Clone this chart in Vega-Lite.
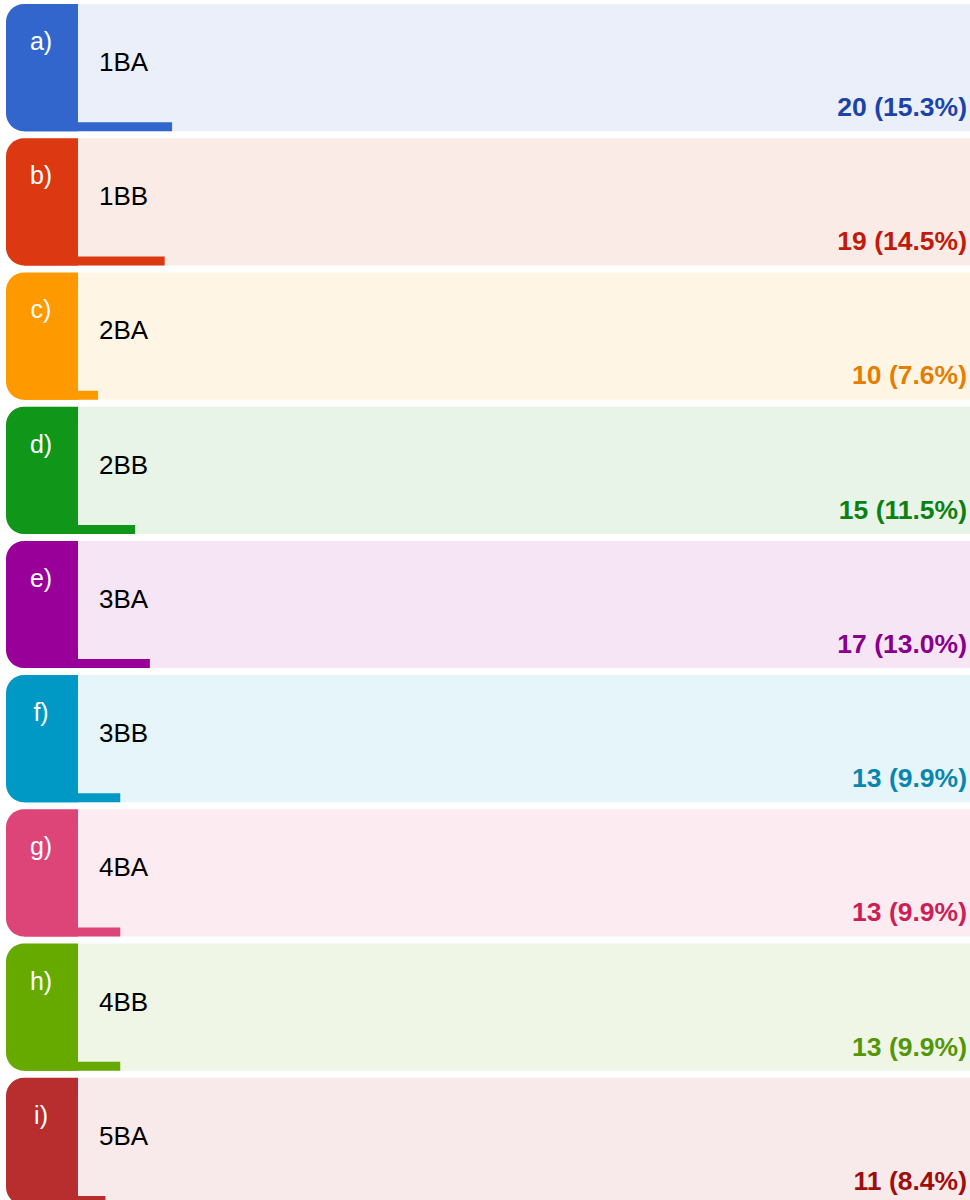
{
  "$schema": "https://vega.github.io/schema/vega-lite/v6.json",
  "width": 970,
  "height": 1200,
  "padding": 0,
  "autosize": {"type": "none"},
  "background": "#ffffff",
  "config": {"view": {"stroke": null}, "font": "Liberation Sans"},
  "data": {
    "values": [
      {"letter": "a)", "label": "1BA", "count": 20, "text": "20 (15.3%)"},
      {"letter": "b)", "label": "1BB", "count": 19, "text": "19 (14.5%)"},
      {"letter": "c)", "label": "2BA", "count": 10, "text": "10 (7.6%)"},
      {"letter": "d)", "label": "2BB", "count": 15, "text": "15 (11.5%)"},
      {"letter": "e)", "label": "3BA", "count": 17, "text": "17 (13.0%)"},
      {"letter": "f)", "label": "3BB", "count": 13, "text": "13 (9.9%)"},
      {"letter": "g)", "label": "4BA", "count": 13, "text": "13 (9.9%)"},
      {"letter": "h)", "label": "4BB", "count": 13, "text": "13 (9.9%)"},
      {"letter": "i)", "label": "5BA", "count": 11, "text": "11 (8.4%)"}
    ]
  },
  "layer": [
    {
      "mark": {"type": "rect", "fillOpacity": 0.1, "cornerRadiusTopLeft": 18, "cornerRadiusBottomLeft": 18},
      "encoding": {
        "y": {"field": "letter", "type": "nominal", "axis": null, "sort": null,
              "scale": {"range": [4, 1205], "paddingInner": 0.0521, "paddingOuter": 0}},
        "x": {"datum": -2.43, "type": "quantitative", "axis": null,
              "scale": {"domain": [-3.24, 127.76], "nice": false, "zero": false}},
        "x2": {"datum": 127.76},
        "color": {"field": "letter", "type": "nominal", "legend": null,
                  "scale": {"domain": ["a)", "b)", "c)", "d)", "e)", "f)", "g)", "h)", "i)"],
                            "range": ["#3366CC", "#DC3912", "#FF9900", "#109618", "#990099", "#0099C6", "#DD4477", "#66AA00", "#B82E2E"]}}
      }
    },
    {
      "mark": {"type": "rect", "cornerRadiusTopLeft": 18, "cornerRadiusBottomLeft": 18},
      "encoding": {
        "y": {"field": "letter", "type": "nominal", "sort": null},
        "x": {"datum": -2.43, "type": "quantitative"},
        "x2": {"datum": 7.29},
        "color": {"field": "letter", "type": "nominal", "legend": null}
      }
    },
    {
      "mark": {"type": "rule", "strokeWidth": 9, "strokeCap": "butt"},
      "encoding": {
        "y": {"field": "letter", "type": "nominal", "sort": null, "bandPosition": 0.9646},
        "x": {"field": "count", "type": "quantitative"},
        "x2": {"datum": 0},
        "color": {"field": "letter", "type": "nominal", "legend": null}
      }
    },
    {
      "mark": {"type": "text", "align": "center", "baseline": "alphabetic", "fontSize": 25, "fill": "#ffffff"},
      "encoding": {
        "y": {"field": "letter", "type": "nominal", "sort": null, "bandPosition": 0.362},
        "x": {"datum": 2.3, "type": "quantitative"},
        "text": {"field": "letter"}
      }
    },
    {
      "mark": {"type": "text", "align": "left", "baseline": "alphabetic", "fontSize": 26, "fill": "#000000"},
      "encoding": {
        "y": {"field": "letter", "type": "nominal", "sort": null, "bandPosition": 0.527},
        "x": {"datum": 10.13, "type": "quantitative"},
        "text": {"field": "label"}
      }
    },
    {
      "mark": {"type": "text", "align": "right", "baseline": "alphabetic", "fontSize": 26.5, "fontWeight": "bold"},
      "encoding": {
        "y": {"field": "letter", "type": "nominal", "sort": null, "bandPosition": 0.88},
        "x": {"datum": 127.35, "type": "quantitative"},
        "text": {"field": "text"},
        "fill": {"field": "label", "type": "nominal", "legend": null,
                 "scale": {"domain": ["1BA", "1BB", "2BA", "2BB", "3BA", "3BB", "4BA", "4BB", "5BA"],
                           "range": ["#1C43A9", "#C01A0A", "#E57E00", "#0C8013", "#88008A", "#0A86AE", "#CC1F56", "#54950A", "#9E0E0E"]}}
      }
    }
  ]
}
